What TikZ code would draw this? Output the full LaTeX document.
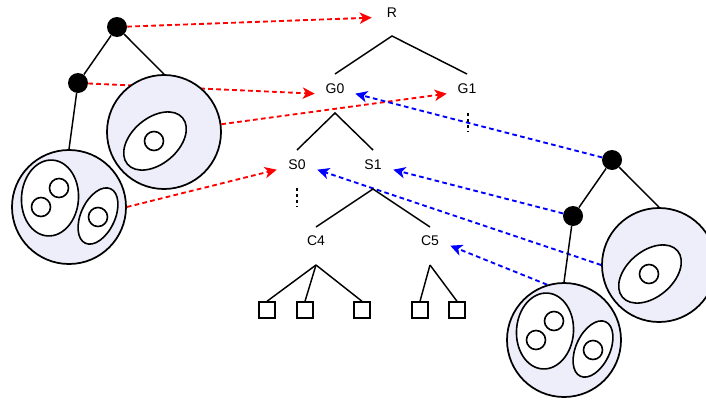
\documentclass[tikz,border=0pt]{standalone}
\usepackage{fontspec}
\setmainfont{Liberation Sans}
\usetikzlibrary{arrows.meta,calc}
\pgfdeclarelayer{background}
\pgfsetlayers{background,main}
\definecolor{discfill}{RGB}{238,238,250}
\tikzset{
  edge/.style={line width=1.1pt},
  dot/.style={circle,fill=black,inner sep=0pt,minimum size=15pt},
  disc/.style={circle,draw,line width=1.3pt,fill=discfill,inner sep=0pt,minimum size=85.5pt},
  hole/.style={draw,line width=1.2pt,fill=white},
  lbl/.style={inner sep=0pt,minimum width=30pt,font=\fontsize{10.5}{12}\selectfont},
  leaf/.style={draw,line width=1.1pt,inner sep=0pt,minimum size=12pt},
  vdots/.style={line width=1.1pt,dash pattern=on 2.5pt off 2pt},
  link/.style={line width=1.4pt,dash pattern=on 3.5pt off 2.5pt,
    -{Stealth[length=9pt,width=8.5pt,inset=2.5pt]}},
  redlink/.style={link,red},
  bluelink/.style={link,blue},
  cluster/.pic={
    \node[dot]  (-top) at (0,0) {};
    \node[dot]  (-mid) at (-39,56) {};
    \node[disc] (-A)   at (47,105) {};
    \node[disc] (-B)   at (-48,180) {};
    \draw[edge] (-top) -- (-mid);
    \draw[edge] (-top) -- (-A.north);
    \draw[edge] (-mid) -- (-B.north);
    % single nested region
    \draw[hole,rotate around={40:(38,114)}] (38,114) ellipse [x radius=36,y radius=23];
    \draw[hole] (37,114) circle [radius=9.5];
    % two nested regions
    \draw[hole,rotate around={-4:(-67,171)}] (-67,171) ellipse [x radius=28.5,y radius=38];
    \draw[hole] (-58,161) circle [radius=9.5];
    \draw[hole] (-76,180) circle [radius=9.5];
    \draw[hole,rotate around={65:(-19,189)}] (-19,189) ellipse [x radius=30,y radius=17];
    \draw[hole] (-19,190) circle [radius=9.5];
  }
}
\begin{document}
\begin{tikzpicture}[x=0.75pt,y=-0.75pt]
\useasboundingbox (0,0) rectangle (706,400);

% hierarchy labels
\node[lbl] (R)  at (392,13)  {R};
\node[lbl] (G0) at (335,89)  {G0};
\node[lbl] (G1) at (467,89)  {G1};
\node[lbl] (S0) at (297,165) {S0};
\node[lbl] (S1) at (373,165) {S1};
\node[lbl] (C4) at (316,241) {C4};
\node[lbl] (C5) at (430,241) {C5};

% leaves
\node[leaf] (q1) at (267,310) {};
\node[leaf] (q2) at (305,310) {};
\node[leaf] (q3) at (362,310) {};
\node[leaf] (q4) at (420,310) {};
\node[leaf] (q5) at (457,310) {};

% tree edges
\draw[edge] ($(G0)+(0,-15)$) -- ($(R)+(0,23)$) -- ($(G1)+(0,-15)$);
\draw[edge] ($(S0)+(0,-15)$) -- ($(G0)+(0,24)$) -- ($(S1)+(0,-15)$);
\draw[edge] ($(C4)+(0,-14)$) -- ($(S1)+(0,24)$) -- ($(C5)+(0,-14)$);
\coordinate (c4a) at ($(C4)+(0,24)$);
\coordinate (c5a) at ($(C5)+(0,24)$);
\draw[edge] (c4a) -- (q1.north);
\draw[edge] (c4a) -- (q2.north);
\draw[edge] (c4a) -- (q3.north);
\draw[edge] (c5a) -- (q4.north);
\draw[edge] (c5a) -- (q5.north);

% elided subtrees
\coordinate (g1d) at ($(G1)+(1,24)$);
\coordinate (s0d) at ($(S0)+(0,23)$);
\draw[vdots] (g1d) -- ++(0,19);
\draw[vdots] (s0d) -- ++(0,19);

% the two clustered trees
\pic (lt) at (117,27)  {cluster};
\pic (rt) at (612,160) {cluster};

% correspondences
\begin{pgfonlayer}{background}
\draw[redlink] (lt-top)   -- ([yshift=-3.5pt]R.west);
\draw[redlink] (lt-mid)   -- ([yshift=-3.5pt]G0.west);
\draw[redlink] (lt-A)     -- ([yshift=-3.5pt]G1.west);
\draw[redlink] (lt-B.east) -- ([yshift=-3.5pt]S0.west);
\draw[bluelink] (rt-top)  -- ([yshift=-3.5pt]G0.east);
\draw[bluelink] (rt-mid)  -- ([yshift=-3.5pt]S1.east);
\draw[bluelink] (rt-A.west) -- ([yshift=-3.5pt]S0.east);
\draw[bluelink] (rt-B.107) -- ([yshift=-3.5pt]C5.east);
\end{pgfonlayer}
\end{tikzpicture}
\end{document}
